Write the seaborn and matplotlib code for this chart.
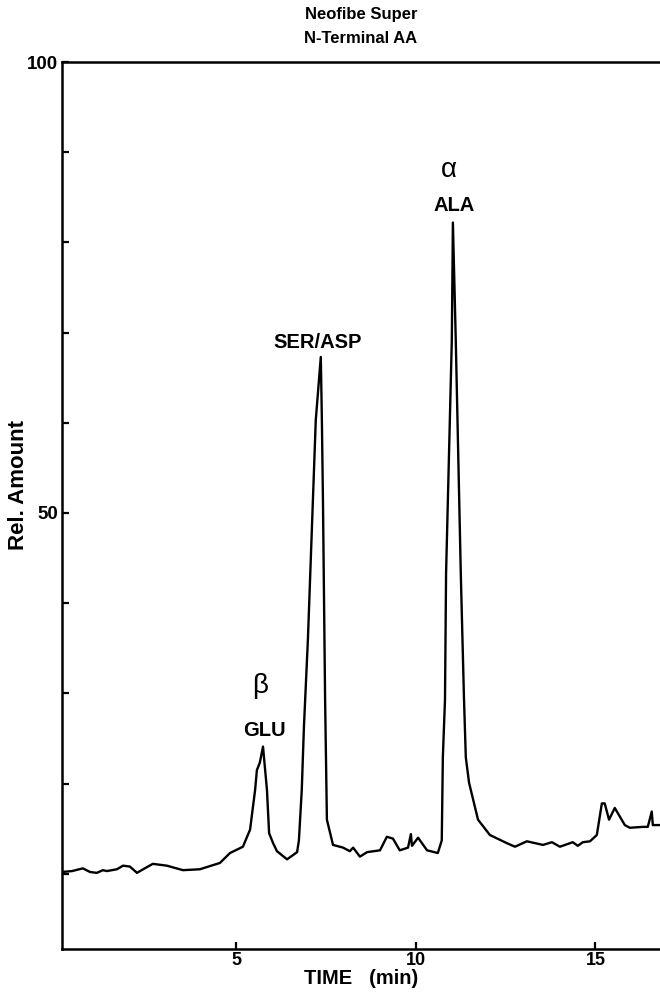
import matplotlib
matplotlib.use("Agg")
import matplotlib.pyplot as plt
import seaborn as sns
import pandas as pd

# Data
time_min = [0.14, 0.42, 0.72, 0.92, 1.11, 1.28, 1.39, 1.67, 1.84, 2.03, 2.23, 2.40, 2.67, 3.06, 3.51,
            3.98, 4.54, 4.82, 5.18, 5.38, 5.52, 5.57, 5.65, 5.74, 5.85, 5.91, 6.02, 6.13, 6.41, 6.69,
            6.74, 6.82, 6.88, 6.99, 7.13, 7.21, 7.35, 7.38, 7.41, 7.47, 7.52, 7.69, 7.97, 8.16, 8.25,
            8.44, 8.64, 9.00, 9.19, 9.36, 9.55, 9.78, 9.86, 9.89, 10.06, 10.31, 10.61, 10.72, 10.75,
            10.81, 10.84, 11.00, 11.03, 11.11, 11.25, 11.34, 11.39, 11.48, 11.73, 12.06, 12.53, 12.76,
            13.09, 13.54, 13.79, 14.01, 14.37, 14.51, 14.65, 14.85, 15.04, 15.18, 15.26, 15.38, 15.54,
            15.82, 15.96, 16.32, 16.46, 16.57, 16.60, 16.80]
rel_amount = [10.2, 10.3, 10.6, 10.2, 10.1, 10.4, 10.3, 10.5, 10.9, 10.8, 10.1, 10.5, 11.1, 10.9, 10.4,
              10.5, 11.2, 12.3, 13.0, 14.9, 19.3, 21.5, 22.3, 24.1, 19.3, 14.5, 13.4, 12.5, 11.6, 12.4,
              13.7, 19.3, 26.3, 35.9, 51.4, 60.3, 67.3, 60.3, 51.4, 29.3, 16.0, 13.2, 12.9, 12.5, 12.9,
              11.9, 12.4, 12.6, 14.1, 13.9, 12.6, 12.9, 14.4, 13.1, 14.0, 12.6, 12.3, 13.7, 22.9,
              29.3, 43.3, 69.2, 82.2, 69.2, 43.3, 29.3, 22.9, 20.1, 16.0, 14.3, 13.4, 13.0,
              13.6, 13.2, 13.5, 13.0, 13.5, 13.1, 13.5, 13.6, 14.3, 17.8, 17.8, 16.0, 17.3,
              15.4, 15.1, 15.2, 15.2, 16.9, 15.4, 15.4]

# Peak labels and where they sit (time, amount at label bottom)
peak_labels = ["GLU", "SER/ASP", "ALA"]
label_times = [5.79, 7.27, 11.06]
label_values = [24.8, 67.8, 83.0]
greek_labels = ["β", "α"]
greek_times = [5.65, 10.92]
greek_values = [29.4, 86.6]

x_ticks = [5, 10, 15]
x_ticklabels = ["5", "10", "15"]
y_ticks = [10, 20, 30, 40, 50, 60, 70, 80, 90, 100]
y_ticklabels = ["", "", "", "", "50", "", "", "", "", "100"]

df = pd.DataFrame({"time": time_min, "amount": rel_amount})

sns.set_style("ticks")
plt.rcParams['font.family'] = ['Liberation Sans', 'DejaVu Sans']
plt.rcParams['text.color'] = 'black'
plt.rcParams['axes.labelcolor'] = 'black'
plt.rcParams['xtick.color'] = 'black'
plt.rcParams['ytick.color'] = 'black'

fig = plt.figure(figsize=(6.6, 9.92), dpi=100)
ax = fig.add_axes([62/660, 1 - 949/992, 1 - 62/660, (949 - 62)/992])

sns.lineplot(data=df, x="time", y="amount", ax=ax, color="black", linewidth=1.7,
             sort=False, estimator=None)

ax.set_xlim(0.14, 16.80)
ax.set_ylim(1.66, 100)
ax.set_xticks(x_ticks)
ax.set_xticklabels(x_ticklabels, fontweight="bold", fontsize=13, color="black")
ax.set_yticks(y_ticks)
ax.set_yticklabels(y_ticklabels, fontweight="bold", fontsize=13.5, color="black")
ax.tick_params(direction="in", length=5, width=1.6, color="black", pad=3)
ax.tick_params(axis="x", pad=2)

for s in ["left", "bottom", "top"]:
    ax.spines[s].set_visible(True)
    ax.spines[s].set_linewidth(1.8)
    ax.spines[s].set_color("black")
ax.spines["right"].set_visible(False)

ax.set_xlabel("TIME   (min)", fontweight="bold", fontsize=14.5, labelpad=0, color="black")
ax.set_ylabel("Rel. Amount", fontweight="bold", fontsize=16, color="black")
ax.yaxis.set_label_coords(-0.056, 0.523)

ax.set_title("Neofibe Super\nN-Terminal AA", fontweight="bold", fontsize=12, pad=14,
             linespacing=1.75, color="black")

for lbl, t, v in zip(peak_labels, label_times, label_values):
    ax.text(t, v, lbl, ha="center", va="bottom", fontweight="bold", fontsize=14.5, color="black")
for g, t, v in zip(greek_labels, greek_times, greek_values):
    ax.text(t, v, g, ha="center", va="bottom", fontsize=20, color="black")

ax.grid(False)
fig.savefig("out.png", dpi=100)
